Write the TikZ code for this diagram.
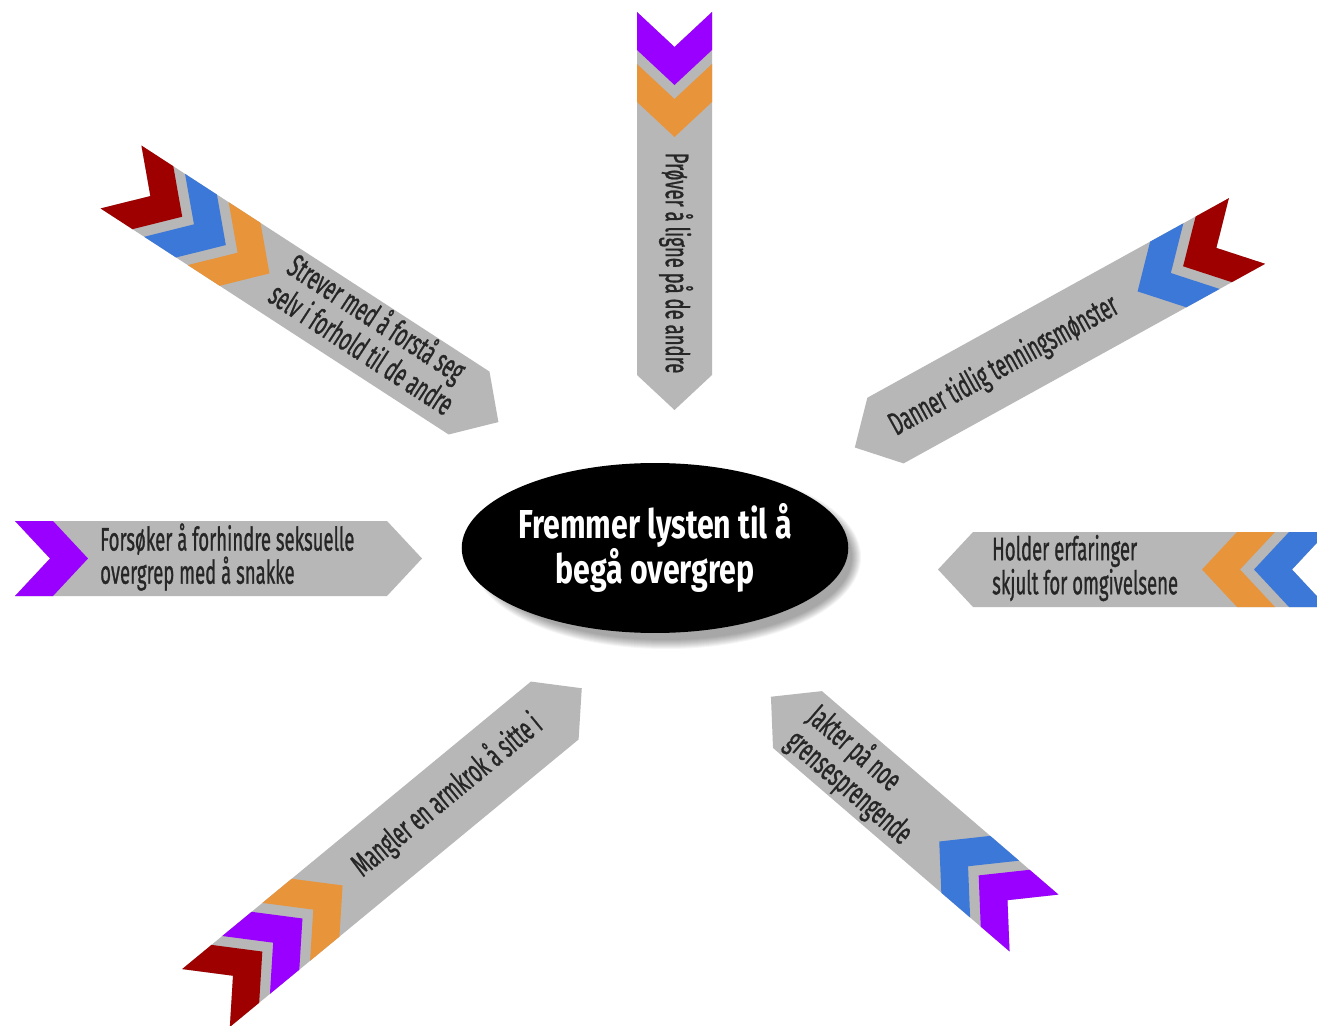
\documentclass[tikz,border=0pt]{standalone}
\usepackage{fontspec}
\newfontfamily\pilfont[FakeBold=1.2]{Fira Sans}
\newfontfamily\midtfont[FakeStretch=0.75]{Fira Sans}
\usetikzlibrary{shapes.geometric}

\definecolor{pilgraa}{HTML}{B7B7B7}
\definecolor{lilla}{HTML}{9900FF}
\definecolor{oransje}{HTML}{E8943A}
\definecolor{blaa}{HTML}{3C78D8}
\definecolor{moerkroed}{HTML}{9E0000}

\def\pilw{37.5}% half the width of a band
\def\pild{35}%   depth of the notch and of the point
\def\vinkt{38}%  thickness of one chevron
\def\vinks{52}%  chevron plus the grey gap after it
% \pil{tail}{direction}{length}{chevron colours, outermost first}
\newcommand{\pil}[4]{%
  \begin{scope}[shift={#1}, rotate=#2]
    \fill[pilgraa] (0,\pilw) -- (\pild,0) -- (0,-\pilw) -- ({#3-\pild},-\pilw)
      -- (#3,0) -- ({#3-\pild},\pilw) -- cycle;
    \foreach \farge [count=\k from 0] in {#4} {
      \fill[\farge] ({\k*\vinks},\pilw) -- ({\k*\vinks+\pild},0) -- ({\k*\vinks},-\pilw)
        -- ({\k*\vinks+\vinkt},-\pilw) -- ({\k*\vinks+\vinkt+\pild},0)
        -- ({\k*\vinks+\vinkt},\pilw) -- cycle;
    }
  \end{scope}}

\begin{document}
\begin{tikzpicture}[x=0.02cm, y=0.02cm,
  % narrow label text, turned to lie along its band
  tekst/.style={font=\pilfont\fontsize{18.5}{16.2}\selectfont, text=black!85,
    align=left, inner sep=0, rotate=#1, xscale=0.57, transform shape},
  tekst/.default=0,
  midt/.style={ellipse, fill=black, text=white, inner sep=0,
    minimum width=7.52cm, minimum height=3.4cm, align=center,
    font=\midtfont\bfseries\fontsize{23}{23}\selectfont}]

\fill[white] (0,0) rectangle (1317,1025);
\useasboundingbox (0,0) rectangle (1317,1025);

% the seven bands, each pointing in at the middle
\pil{(674.5,1013)}{-90}{398}{lilla,oransje}
\pil{(121,848)}{-33}{450}{moerkroed,blaa,oransje}
\pil{(1247,794)}{208.9}{448}{moerkroed,blaa}
\pil{(15,466.5)}{0}{407}{lilla}
\pil{(1327,455.5)}{180}{389}{blaa,oransje}
\pil{(206,27)}{39.5}{487}{moerkroed,lilla,oransje}
\pil{(1034,102)}{139.3}{347}{lilla,blaa}

\node[tekst=-90] (proeve) at (676,762) {Prøver å ligne på de andre};
\node[tekst=-33] (strev) at (372,692) {Strever med å forstå seg\\selv i forhold til de andre};
\node[tekst=28.9] (danner) at (1004,659) {Danner tidlig tenningsmønster};
\node[tekst, anchor=west] (forsok) at (100,468) {Forsøker å forhindre seksuelle\\overgrep med å snakke};
\node[tekst, anchor=west] (holder) at (992,457) {Holder erfaringer\\skjult for omgivelsene};
\node[tekst=39.5] (mangler) at (447,230) {Mangler en armkrok å sitte i};
\node[tekst=-40.7] (jakt) at (860,250) {Jakter på noe\\grensesprengende};

% soft shadow under the ellipse
\foreach \i in {0,...,9}
  \fill[black, opacity=0.04] (666,468) ellipse ({186+\i} and {83+\i});
\node[midt] (midt) at (655,477) {Fremmer lysten til å\\begå overgrep};

\end{tikzpicture}
\end{document}
